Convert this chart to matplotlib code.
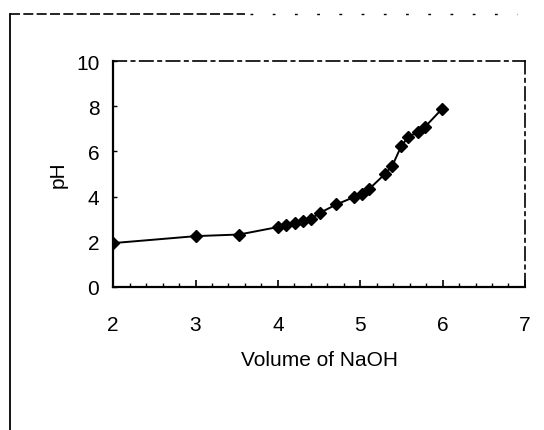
import matplotlib

matplotlib.use("Agg")
import matplotlib.pyplot as plt
from matplotlib.lines import Line2D
from matplotlib.ticker import MultipleLocator

# titration readings
volume_naoh = [2.00, 3.01, 3.53, 4.00, 4.10, 4.21, 4.30, 4.40, 4.51, 4.71,
               4.92, 5.02, 5.11, 5.30, 5.39, 5.50, 5.58, 5.70, 5.79, 5.99]
ph_values = [1.94, 2.25, 2.32, 2.65, 2.75, 2.82, 2.93, 3.01, 3.28, 3.65,
             3.97, 4.12, 4.34, 5.00, 5.37, 6.25, 6.62, 6.87, 7.10, 7.87]

x_ticks = [2, 3, 4, 5, 6, 7]
y_ticks = [0, 2, 4, 6, 8, 10]

plt.rcParams["font.family"] = ["Liberation Sans", "DejaVu Sans"]

fig = plt.figure(figsize=(5.44, 4.31), dpi=100)
ax = fig.add_axes([0.208, 0.332, 0.757, 0.524])

ax.plot(volume_naoh, ph_values, color="black", linewidth=1.4,
        marker="D", markersize=6, markerfacecolor="black", markeredgecolor="black")

ax.set_xlim(2, 7)
ax.set_ylim(0, 10)
ax.set_xticks(x_ticks)
ax.set_yticks(y_ticks)
ax.xaxis.set_minor_locator(MultipleLocator(0.2))
ax.tick_params(axis="x", which="major", direction="in", length=5, width=1.2,
               pad=20, labelsize=15)
ax.tick_params(axis="x", which="minor", direction="in", length=3, width=1.0)
ax.tick_params(axis="y", which="major", direction="in", length=3, width=1.0,
               pad=10, labelsize=15)
ax.set_xlabel("Volume of NaOH", fontsize=15, labelpad=12)
ax.set_ylabel("pH", fontsize=15, labelpad=6)

for spine in ("left", "bottom"):
    ax.spines[spine].set_linewidth(1.6)
for spine in ("top", "right"):
    ax.spines[spine].set_linewidth(1.2)
    ax.spines[spine].set_linestyle((0, (8, 3, 2, 3)))

# scanned page frame around the chart
fig.add_artist(Line2D([0.019, 0.019], [0.0, 0.965], transform=fig.transFigure,
                      color="black", linewidth=1.3))
fig.add_artist(Line2D([0.019, 0.45], [0.965, 0.965], transform=fig.transFigure,
                      color="black", linewidth=1.2, linestyle=(0, (6, 2))))
fig.add_artist(Line2D([0.46, 0.95], [0.965, 0.965], transform=fig.transFigure,
                      color="black", linewidth=1.0, linestyle=(0, (2, 14))))

fig.savefig("out.png", dpi=100, facecolor="white")
